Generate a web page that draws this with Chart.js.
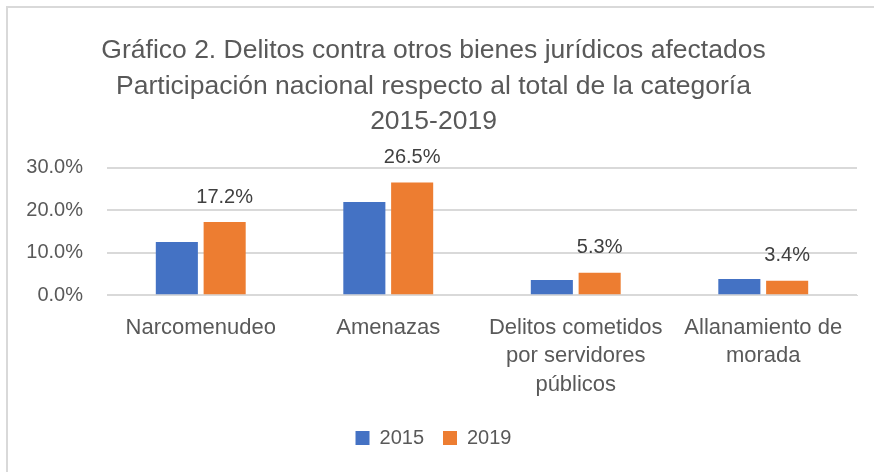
<!DOCTYPE html>
<html>
<head>
<meta charset="utf-8">
<script src="https://cdn.jsdelivr.net/npm/chart.js@4"></script>
<style>
  html, body { margin: 0; padding: 0; background: #fff; }
  #wrap { width: 874px; height: 472px; position: relative; }
</style>
</head>
<body>
<div id="wrap"><canvas id="chart"></canvas></div>
<script>
const categories = [
  'Narcomenudeo',
  'Amenazas',
  ['Delitos cometidos', 'por servidores', 'públicos'],
  ['Allanamiento de', 'morada'],
];
const series2015 = [12.5, 21.9, 3.6, 3.8];
const series2019 = [17.2, 26.5, 5.3, 3.4];
const yTicks = [0, 10, 20, 30];
const titleLines = [
  'Gráfico 2. Delitos contra otros bienes jurídicos afectados',
  'Participación nacional respecto al total de la categoría',
  '2015-2019',
];

const FONT = "'Liberation Sans', Arial, sans-serif";
const TEXT = '#595959';

// Excel-style frame: only left and top edges show in the picture
const framePlugin = {
  id: 'frame',
  beforeDraw(chart) {
    const { ctx, width, height } = chart;
    ctx.save();
    ctx.fillStyle = '#fff';
    ctx.fillRect(0, 0, width, height);
    ctx.strokeStyle = '#d9d9d9';
    ctx.lineWidth = 2;
    ctx.beginPath();
    ctx.moveTo(7, height);
    ctx.lineTo(7, 7);
    ctx.lineTo(width, 7);
    ctx.stroke();
    ctx.restore();
  },
};

// value labels above the 2019 bars only
const labelPlugin = {
  id: 'barLabels',
  afterDatasetsDraw(chart) {
    const { ctx } = chart;
    const meta = chart.getDatasetMeta(1);
    ctx.save();
    ctx.font = `20px ${FONT}`;
    ctx.fillStyle = '#404040';
    ctx.textAlign = 'center';
    ctx.textBaseline = 'middle';
    meta.data.forEach((bar, i) => {
      ctx.fillText(series2019[i].toFixed(1) + '%', bar.x, bar.y - 25);
    });
    ctx.restore();
  },
};

new Chart(document.getElementById('chart'), {
  type: 'bar',
  data: {
    labels: categories,
    datasets: [
      {
        label: '2015',
        data: series2015,
        backgroundColor: '#4472C4',
        categoryPercentage: 0.51,
        barPercentage: 0.88,
      },
      {
        label: '2019',
        data: series2019,
        backgroundColor: '#ED7D31',
        categoryPercentage: 0.51,
        barPercentage: 0.88,
      },
    ],
  },
  options: {
    responsive: true,
    maintainAspectRatio: false,
    animation: false,
    layout: { padding: { left: 10, right: 17, top: 33, bottom: 14 } },
    plugins: {
      title: {
        display: true,
        text: titleLines,
        color: TEXT,
        font: { family: FONT, size: 26.5, weight: 'normal', lineHeight: 1.34 },
        padding: { top: 0, bottom: 28 },
      },
      legend: {
        position: 'bottom',
        labels: {
          color: TEXT,
          font: { family: FONT, size: 20 },
          boxWidth: 14,
          boxHeight: 14,
          padding: 19,
        },
      },
      tooltip: { enabled: false },
    },
    scales: {
      x: {
        grid: { display: false },
        border: { color: '#d9d9d9' },
        ticks: {
          color: TEXT,
          font: { family: FONT, size: 22, lineHeight: 1.3 },
          maxRotation: 0,
          autoSkip: false,
          padding: 10,
        },
      },
      y: {
        min: 0,
        max: 30,
        afterBuildTicks(scale) {
          scale.ticks = yTicks.map(v => ({ value: v }));
        },
        afterFit(scale) { scale.width = 97; },
        grid: { color: '#d9d9d9', lineWidth: 2, drawTicks: false },
        border: { display: false },
        ticks: {
          color: TEXT,
          font: { family: FONT, size: 20 },
          padding: 24,
          callback: v => v.toFixed(1) + '%',
        },
      },
    },
  },
  plugins: [framePlugin, labelPlugin],
});
</script>
</body>
</html>
